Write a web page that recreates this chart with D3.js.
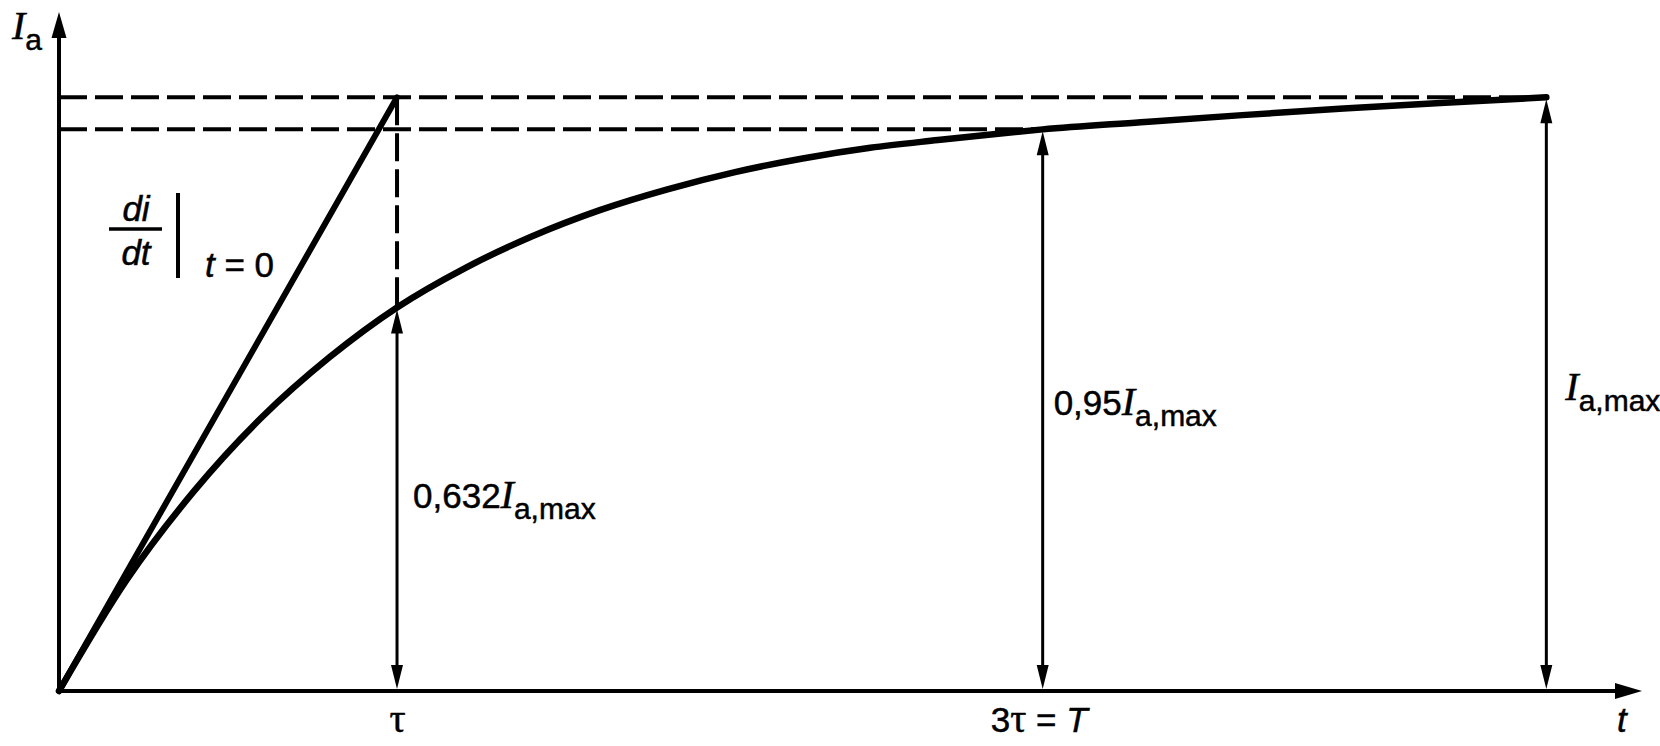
<!DOCTYPE html>
<html><head><meta charset="utf-8">
<script src="https://cdn.jsdelivr.net/npm/d3@7"></script>
<style>body{margin:0;background:#fff} svg{display:block}</style>
</head><body><svg id="c" width="1660" height="746"></svg>
<script>
// ---- data (t in units of tau, i as fraction of I_a,max) ----
const curveT = [0, 0.2, 0.4, 0.6, 0.8, 1.0, 1.2, 1.4, 1.6, 1.8, 2.0, 2.2, 2.4, 2.6, 2.8, 2.91, 3.2, 3.5, 3.8, 4.1, 4.40];
const curveI = [0, 0.187, 0.337, 0.461, 0.562, 0.646, 0.712, 0.766, 0.810, 0.845, 0.874, 0.897, 0.915, 0.928, 0.940, 0.946, 0.958, 0.970, 0.981, 0.991, 1.0];
const tangentT = [0, 1.0];
const tangentI = [0, 1.0];
const markT = [1.0, 2.91, 4.40];
const markI = [0.646, 0.946, 1.0];
const tickLabels = ["τ", "3τ = T"];
const tAxisMax = 4.683;
const iAxisMax = 1.1437;

const svg = d3.select("#c");
const x = d3.scaleLinear().domain([0, tAxisMax]).range([59, 1642]);
const y = d3.scaleLinear().domain([0, iAxisMax]).range([691, 12]);

const SANS = "'Liberation Sans', Arial, Helvetica, sans-serif";
const SERIF = "'Liberation Serif', 'Times New Roman', serif";
const TXT_STROKE = 0.5;

function head(tx, ty, dir, len, hw) {
  let pts;
  if (dir === 'up') pts = [[tx, ty], [tx - hw, ty + len], [tx + hw, ty + len]];
  else if (dir === 'down') pts = [[tx, ty], [tx - hw, ty - len], [tx + hw, ty - len]];
  else pts = [[tx, ty], [tx - len, ty - hw], [tx - len, ty + hw]];
  svg.append("path").attr("d", "M" + pts.map(p => p.join(",")).join("L") + "Z").attr("fill", "#000");
}

// dashed helper lines
const dash = "28,8";
svg.append("line").attr("x1", x(0)).attr("x2", x(markT[2])).attr("y1", y(markI[2])).attr("y2", y(markI[2]))
  .attr("stroke", "#000").attr("stroke-width", 4).attr("stroke-dasharray", dash);
svg.append("line").attr("x1", x(0)).attr("x2", x(markT[1])).attr("y1", y(markI[1])).attr("y2", y(markI[1]))
  .attr("stroke", "#000").attr("stroke-width", 4).attr("stroke-dasharray", dash);
svg.append("line").attr("x1", x(markT[0])).attr("x2", x(markT[0])).attr("y1", y(markI[2])).attr("y2", y(markI[0]))
  .attr("stroke", "#000").attr("stroke-width", 4).attr("stroke-dasharray", dash);

// axes
svg.append("line").attr("x1", x(0)).attr("x2", x(0)).attr("y1", y(0) + 2).attr("y2", y(iAxisMax) + 20)
  .attr("stroke", "#000").attr("stroke-width", 4);
svg.append("line").attr("x1", x(0) - 2).attr("x2", x(tAxisMax) - 20).attr("y1", y(0)).attr("y2", y(0))
  .attr("stroke", "#000").attr("stroke-width", 4);
head(x(0), y(iAxisMax), 'up', 26, 7.5);
head(x(tAxisMax), y(0), 'right', 27, 8);

// x tick labels via d3 axis
const xAxis = d3.axisBottom(x).tickValues(markT.slice(0, 2)).tickSize(0).tickSizeOuter(0).tickFormat("");
const gx = svg.append("g").attr("transform", `translate(0,${y(0)})`).call(xAxis);
gx.select(".domain").remove();
gx.selectAll(".tick").each(function(d, i) {
  const t = d3.select(this).append("text").attr("y", 41).attr("text-anchor", "middle")
    .attr("fill", "#000").attr("stroke", "#000").attr("stroke-width", TXT_STROKE);
  if (i === 0) {
    t.append("tspan").attr("font-family", SERIF).attr("font-size", 40).text(tickLabels[0]);
  } else {
    t.attr("x", -4);
    t.append("tspan").attr("font-family", SANS).attr("font-size", 35).text("3");
    t.append("tspan").attr("font-family", SERIF).attr("font-size", 40).text("τ");
    t.append("tspan").attr("font-family", SANS).attr("font-size", 35).text(" = ");
    t.append("tspan").attr("font-family", SANS).attr("font-size", 35).attr("font-style", "italic").text("T");
  }
});

// tangent line
const line = d3.line().x(d => x(d[0])).y(d => y(d[1]));
svg.append("path").datum(tangentT.map((t, k) => [t, tangentI[k]]))
  .attr("d", line).attr("fill", "none").attr("stroke", "#000").attr("stroke-width", 6).attr("stroke-linecap", "round");

// curve
const curveLine = d3.line().x(d => x(d[0])).y(d => y(d[1])).curve(d3.curveMonotoneX);
svg.append("path").datum(curveT.map((t, k) => [t, curveI[k]]))
  .attr("d", curveLine).attr("fill", "none").attr("stroke", "#000").attr("stroke-width", 6.5).attr("stroke-linecap", "round");

// dimension arrows
markT.forEach((t, k) => {
  const xx = x(t), top = y(markI[k]) + 2, bot = y(0) - 2;
  svg.append("line").attr("x1", xx).attr("x2", xx).attr("y1", top + 10).attr("y2", bot - 10)
    .attr("stroke", "#000").attr("stroke-width", 3);
  head(xx, top, 'up', 24, 6);
  head(xx, bot, 'down', 24, 6);
});

// labels
function imaxLabel(px, py, prefix) {
  const t = svg.append("text").attr("x", px).attr("y", py).attr("fill", "#000")
    .attr("stroke", "#000").attr("stroke-width", TXT_STROKE);
  if (prefix) t.append("tspan").attr("font-family", SANS).attr("font-size", 35).text(prefix);
  t.append("tspan").attr("font-family", SERIF).attr("font-style", "italic").attr("font-size", 40).text("I");
  t.append("tspan").attr("font-family", SANS).attr("font-size", 30).attr("dy", 11).text("a,max");
}
imaxLabel(x(markT[0]) + 16, 508, "0,632");
imaxLabel(x(markT[1]) + 11, 415, "0,95");
imaxLabel(x(markT[2]) + 19, 400, "");

// y axis label I_a
const ya = svg.append("text").attr("x", 12).attr("y", 39).attr("fill", "#000")
  .attr("stroke", "#000").attr("stroke-width", TXT_STROKE);
ya.append("tspan").attr("font-family", SERIF).attr("font-style", "italic").attr("font-size", 40).text("I");
ya.append("tspan").attr("font-family", SANS).attr("font-size", 30).attr("dy", 11).text("a");

// x axis label t
svg.append("text").attr("x", 1617).attr("y", 732).attr("font-family", SANS).attr("font-style", "italic")
  .attr("font-size", 35).attr("fill", "#000").attr("stroke", "#000").attr("stroke-width", TXT_STROKE).text("t");

// di/dt | t = 0
svg.append("text").attr("x", 136).attr("y", 221).attr("text-anchor", "middle").attr("font-family", SANS)
  .attr("font-style", "italic").attr("font-size", 35).attr("stroke", "#000").attr("stroke-width", TXT_STROKE).text("di");
svg.append("line").attr("x1", 109).attr("x2", 162).attr("y1", 229).attr("y2", 229).attr("stroke", "#000").attr("stroke-width", 3.5);
svg.append("text").attr("x", 136).attr("y", 265).attr("text-anchor", "middle").attr("font-family", SANS)
  .attr("font-style", "italic").attr("font-size", 35).attr("stroke", "#000").attr("stroke-width", TXT_STROKE).text("dt");
svg.append("line").attr("x1", 178).attr("x2", 178).attr("y1", 193).attr("y2", 278).attr("stroke", "#000").attr("stroke-width", 4);
const t0 = svg.append("text").attr("x", 205).attr("y", 277).attr("font-family", SANS).attr("font-size", 35)
  .attr("stroke", "#000").attr("stroke-width", TXT_STROKE);
t0.append("tspan").attr("font-style", "italic").text("t");
t0.append("tspan").text(" = 0");
</script></body></html>
